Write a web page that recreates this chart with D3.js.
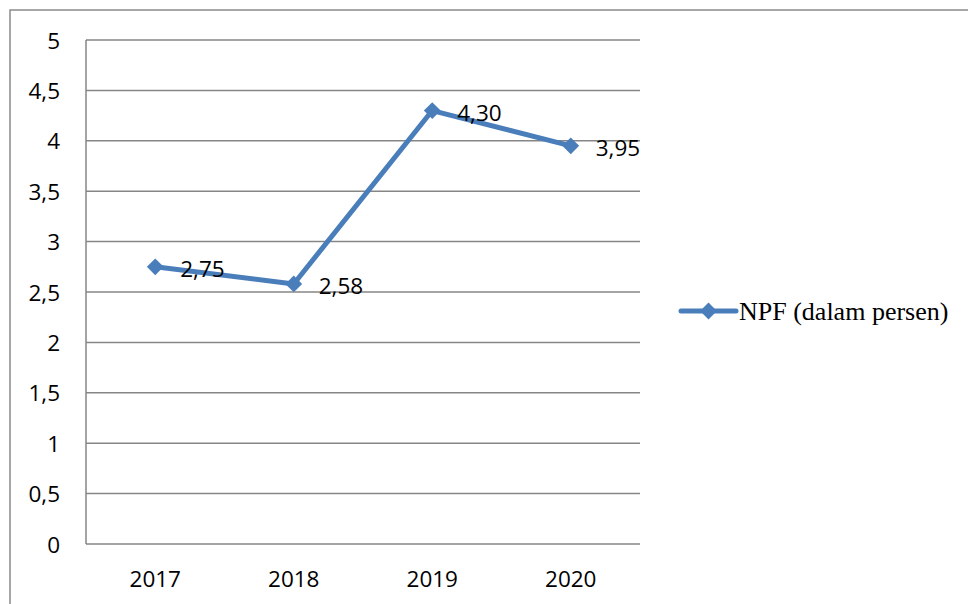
<!DOCTYPE html>
<html>
<head>
<meta charset="utf-8">
<script src="https://cdn.jsdelivr.net/npm/d3@7"></script>
<style>
  html, body { margin: 0; padding: 0; background: #fff; }
  svg { display: block; }
</style>
</head>
<body>
<svg id="chart" width="968" height="604"></svg>
<script>
// NPF by year, in percent
const years = ["2017", "2018", "2019", "2020"];
const npfValues = [2.75, 2.58, 4.30, 3.95];
const yTicks = [0, 0.5, 1, 1.5, 2, 2.5, 3, 3.5, 4, 4.5, 5];
const seriesName = "NPF (dalam persen)";

const svg = d3.select("#chart");
const lineColor = "#4a7ebb";
const gridColor = "#868686";
const fmt = v => d3.format(".2f")(v).replace(".", ",");
const tickFmt = v => String(v).replace(".", ",");

// outer chart frame
svg.append("rect")
  .attr("x", 10).attr("y", 10)
  .attr("width", 1000).attr("height", 700)
  .attr("fill", "none").attr("stroke", "#8a8a8a").attr("stroke-width", 1.5);

const plot = { left: 86, right: 640, top: 40, bottom: 544 };

const x = d3.scaleBand().domain(years).range([plot.left, plot.right]);
const y = d3.scaleLinear().domain([0, 5]).range([plot.bottom, plot.top]);

// horizontal gridlines
svg.append("g").selectAll("line").data(yTicks).join("line")
  .attr("x1", plot.left).attr("x2", plot.right)
  .attr("y1", d => y(d)).attr("y2", d => y(d))
  .attr("stroke", gridColor).attr("stroke-width", 1.5);

// vertical axis line
svg.append("line")
  .attr("x1", plot.left).attr("x2", plot.left)
  .attr("y1", plot.top).attr("y2", plot.bottom)
  .attr("stroke", gridColor).attr("stroke-width", 1.5);

// y tick labels
svg.append("g").selectAll("text").data(yTicks).join("text")
  .attr("x", 60).attr("y", d => y(d))
  .attr("text-anchor", "end").attr("dominant-baseline", "central")
  .attr("font-family", "'Open Sans', sans-serif").attr("font-size", 22.5)
  .attr("fill", "#000")
  .text(tickFmt);

// x category labels
svg.append("g").selectAll("text").data(years).join("text")
  .attr("x", d => x(d) + x.bandwidth() / 2).attr("y", 578)
  .attr("text-anchor", "middle").attr("dominant-baseline", "central")
  .attr("font-family", "'Open Sans', sans-serif").attr("font-size", 22.5)
  .attr("fill", "#000")
  .text(d => d);

const pts = years.map((yr, i) => ({ yr, v: npfValues[i] }));
const cx = d => x(d.yr) + x.bandwidth() / 2;

// series line
svg.append("path")
  .datum(pts)
  .attr("d", d3.line().x(cx).y(d => y(d.v)))
  .attr("fill", "none").attr("stroke", lineColor)
  .attr("stroke-width", 5).attr("stroke-linejoin", "round");

// diamond markers
const diamond = d3.symbol().type(d3.symbolDiamond2).size(180);
svg.append("g").selectAll("path").data(pts).join("path")
  .attr("transform", d => `translate(${cx(d)},${y(d.v)})`)
  .attr("d", diamond)
  .attr("fill", lineColor);

// value labels
svg.append("g").selectAll("text").data(pts).join("text")
  .attr("x", d => cx(d) + 25).attr("y", d => y(d.v) + 2)
  .attr("dominant-baseline", "central")
  .attr("font-family", "'Open Sans', sans-serif").attr("font-size", 22.5)
  .attr("fill", "#000")
  .text(d => fmt(d.v));

// legend
const lg = svg.append("g").attr("transform", "translate(681,311)");
lg.append("line").attr("x1", 0).attr("x2", 55).attr("y1", 0).attr("y2", 0)
  .attr("stroke", lineColor).attr("stroke-width", 5).attr("stroke-linecap", "round");
lg.append("path").attr("transform", "translate(27.5,0)").attr("d", diamond).attr("fill", lineColor);
lg.append("text").attr("x", 58).attr("y", 0)
  .attr("dominant-baseline", "central")
  .attr("font-family", "'Liberation Serif', 'Times New Roman', serif").attr("font-size", 26)
  .attr("fill", "#000")
  .text(seriesName);
</script>
</body>
</html>
